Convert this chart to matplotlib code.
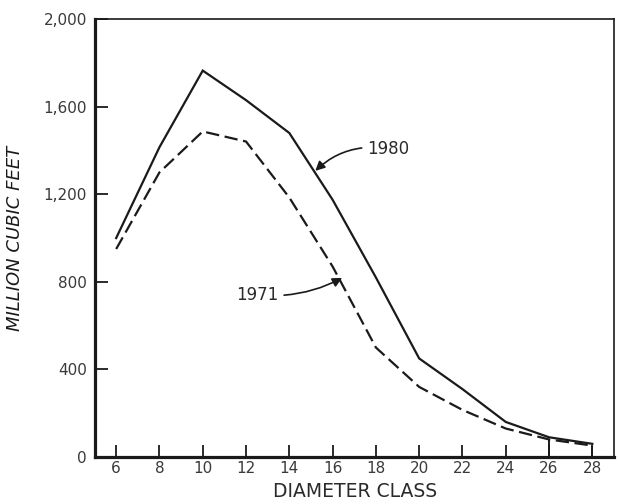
import matplotlib
matplotlib.use("Agg")
import matplotlib.pyplot as plt

diameter = [6, 8, 10, 12, 14, 16, 18, 20, 22, 24, 26, 28]
vol_1980 = [1000, 1415, 1765, 1630, 1480, 1175, 820, 450, 310, 160, 90, 60]
vol_1971 = [950, 1300, 1487, 1441, 1185, 870, 500, 320, 215, 130, 80, 52]
xticks = diameter
yticks = [0, 400, 800, 1200, 1600, 2000]
ytick_labels = ["0", "400", "800", "1,200", "1,600", "2,000"]

plt.rcParams['font.family'] = ['DejaVu Sans']
fig = plt.figure(figsize=(6.18, 5.04), dpi=100)
ax = fig.add_axes([0.154, 0.0933, 0.8395, 0.8687])

ax.plot(diameter, vol_1980, color='#1a1a1a', lw=1.6, solid_joinstyle='miter')
ax.plot(diameter, vol_1971, color='#1a1a1a', lw=1.6, linestyle=(0, (6, 2.5)))
# vertical lines at the last two classes
for xi, yi in zip(diameter[-2:], vol_1971[-2:]):
    ax.vlines(xi, 0, yi, color='#1a1a1a', lw=1.4)

ax.set_xlim(5.03, 29.0)
ax.set_ylim(0, 2000)
ax.set_xticks(xticks)
ax.set_xticklabels([str(v) for v in xticks])
ax.set_yticks(yticks)
ax.set_yticklabels(ytick_labels)
ax.tick_params(axis='both', direction='in', length=9, width=1.3, labelsize=11,
               color='#1a1a1a', labelcolor='#3a3a3a')
ax.tick_params(axis='x', pad=3)
ax.tick_params(axis='y', pad=6)

for side in ['left', 'bottom']:
    ax.spines[side].set_linewidth(2.3)
for side in ['top', 'right']:
    ax.spines[side].set_linewidth(1.2)
for s in ax.spines.values():
    s.set_color('#1a1a1a')

ax.set_xlabel('DIAMETER CLASS', fontsize=13.5, labelpad=4, color='#2a2a2a')
ax.set_ylabel('MILLION CUBIC FEET', fontsize=13, style='italic', labelpad=14,
              color='#1a1a1a')

ax.annotate('1980', xy=(15.2, 1307), xytext=(17.6, 1408), fontsize=12,
            va='center', ha='left', color='#2a2a2a',
            arrowprops=dict(arrowstyle='-|>', color='#1a1a1a', lw=1.2,
                            mutation_scale=14, shrinkA=2, shrinkB=0,
                            connectionstyle='arc3,rad=0.25'))
ax.annotate('1971', xy=(16.44, 818), xytext=(11.55, 740), fontsize=12,
            va='center', ha='left', color='#2a2a2a',
            arrowprops=dict(arrowstyle='-|>', color='#1a1a1a', lw=1.2,
                            mutation_scale=14, shrinkA=2, shrinkB=0,
                            connectionstyle='arc3,rad=0.15'))

fig.savefig('out.png', dpi=100)
